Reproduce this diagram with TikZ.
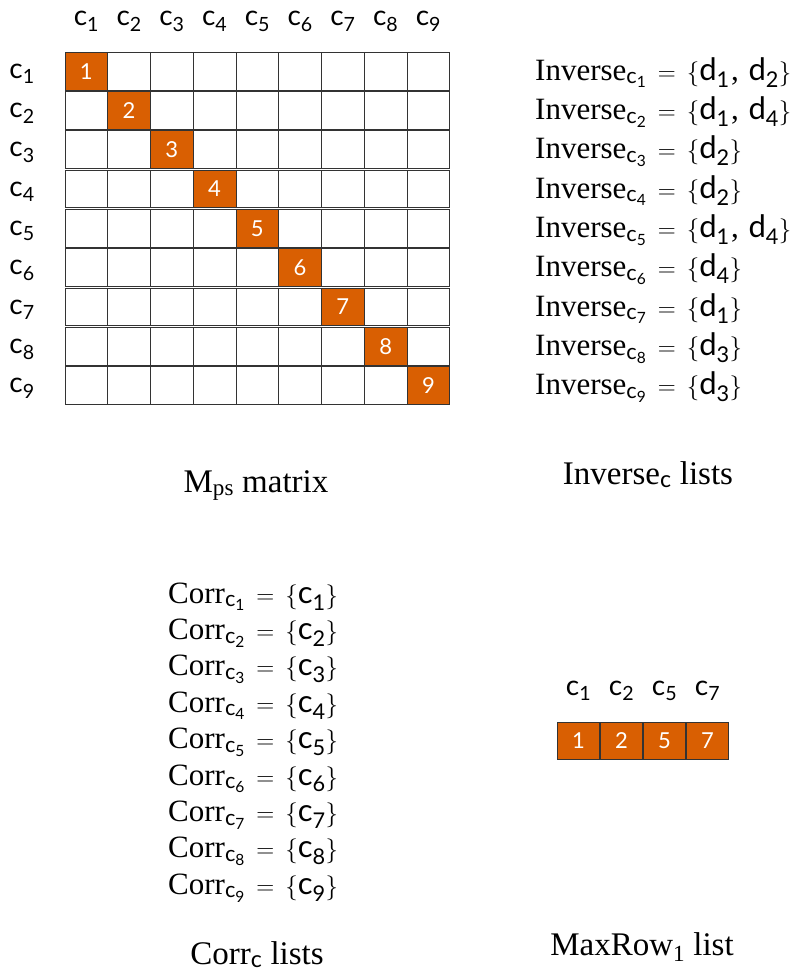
\documentclass[tikz,border=0pt]{standalone}
\usepackage{amsmath}
\usepackage{fontspec}
\setmainfont{Liberation Serif}
\setsansfont{Lato}
\definecolor{ora}{HTML}{D95F02}
\newcommand{\csymb}[1]{\ensuremath{\text{\sffamily c}_{\text{\sffamily #1}}}}
\newcommand{\dsymb}[1]{\ensuremath{\text{\sffamily d}_{\text{\sffamily #1}}}}
\newcommand{\isub}[1]{\ensuremath{_{\text{\sffamily c}_{\text{\sffamily #1}}}}}
\newcommand{\setof}[1]{\ensuremath{\,=\,\{#1\}}}
\newcommand{\sep}{\mkern1mu\text{,}\mkern7mu}
\tikzset{
  cell/.style={draw=black!80, line width=0.9pt, minimum width=42.75pt, minimum height=37.7pt, inner sep=0pt, outer sep=0pt},
  hot/.style={cell, fill=ora, text=white, font=\sffamily\fontsize{22}{26}\selectfont},
  lab/.style={font=\sffamily\fontsize{28}{32}\selectfont, inner sep=0pt, anchor=base},
  txt/.style={font=\rmfamily\fontsize{31}{34}\selectfont, inner sep=0pt, anchor=base west},
  captxt/.style={font=\rmfamily\fontsize{33}{36}\selectfont, inner sep=0pt, anchor=base},
}
\begin{document}
\begin{tikzpicture}[x=1pt,y=-1pt]
\useasboundingbox (0,0) rectangle (806,974);
% matrix
\foreach \i in {1,...,9}{
  \foreach \j in {1,...,9}{
    \ifnum\i=\j
      \node[hot] (m-\i-\j) at ({65+42.75*(\j-0.5)},{52.3+39.3*(\i-1)+18.85}) {\i};
    \else
      \node[cell] (m-\i-\j) at ({65+42.75*(\j-0.5)},{52.3+39.3*(\i-1)+18.85}) {};
    \fi
  }
  \node[lab] (col-\i) at ({65+42.75*(\i-0.5)},26) {\csymb{\i}};
  \node[lab] (row-\i) at (22,{52.3+39.3*(\i-1)+26}) {\csymb{\i}};
}
% inverse lists
\node[txt] (inv1) at (535,{71.2+9+39.3*0}) {$\text{Inverse}\isub{1} \setof{\dsymb{1}\sep\dsymb{2}}$};
\node[txt] (inv2) at (535,{71.2+9+39.3*1}) {$\text{Inverse}\isub{2} \setof{\dsymb{1}\sep\dsymb{4}}$};
\node[txt] (inv3) at (535,{71.2+9+39.3*2}) {$\text{Inverse}\isub{3} \setof{\dsymb{2}}$};
\node[txt] (inv4) at (535,{71.2+9+39.3*3}) {$\text{Inverse}\isub{4} \setof{\dsymb{2}}$};
\node[txt] (inv5) at (535,{71.2+9+39.3*4}) {$\text{Inverse}\isub{5} \setof{\dsymb{1}\sep\dsymb{4}}$};
\node[txt] (inv6) at (535,{71.2+9+39.3*5}) {$\text{Inverse}\isub{6} \setof{\dsymb{4}}$};
\node[txt] (inv7) at (535,{71.2+9+39.3*6}) {$\text{Inverse}\isub{7} \setof{\dsymb{1}}$};
\node[txt] (inv8) at (535,{71.2+9+39.3*7}) {$\text{Inverse}\isub{8} \setof{\dsymb{3}}$};
\node[txt] (inv9) at (535,{71.2+9+39.3*8}) {$\text{Inverse}\isub{9} \setof{\dsymb{3}}$};
% corr lists
\foreach \k in {1,...,9}{
  \node[txt] (corr\k) at (168,{603+36.4*(\k-1)}) {$\text{Corr}\isub{\k} \setof{\csymb{\k}}$};
}
% maxrow
\node[lab] (mc1) at (578.5,695) {\csymb{1}};
\node[lab] (mc2) at (621.5,695) {\csymb{2}};
\node[lab] (mc5) at (664.5,695) {\csymb{5}};
\node[lab] (mc7) at (707.5,695) {\csymb{7}};
\node[hot] (mb1) at (578.5,741) {1};
\node[hot] (mb2) at (621.5,741) {2};
\node[hot] (mb5) at (664.5,741) {5};
\node[hot] (mb7) at (707.5,741) {7};
% captions
\node[captxt] (capm) at (256,492) {M$_{\text{ps}}$ matrix};
\node[captxt] (capi) at (648,484) {Inverse$_{\text{\sffamily c}}$ lists};
\node[captxt] (capc) at (257,964) {Corr$_{\text{\sffamily c}}$ lists};
\node[captxt] (capx) at (642,955) {MaxRow$_{\text{1}}$ list};
\end{tikzpicture}
\end{document}
